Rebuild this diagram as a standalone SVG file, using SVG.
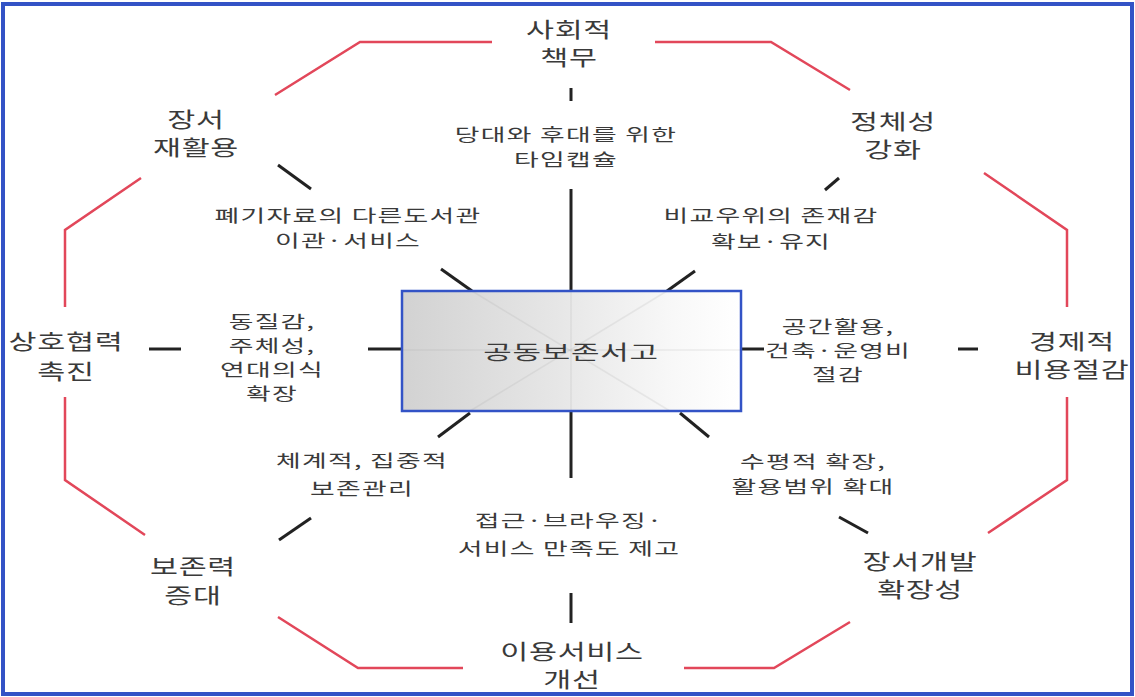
<svg xmlns="http://www.w3.org/2000/svg" width="1135" height="697" viewBox="0 0 1135 697">
<style>
text{font-family:"Noto Sans CJK KR","Noto Sans",sans-serif;fill:#3a3a3a;text-anchor:middle}
.lo{font-size:21px;letter-spacing:0.5px}
.li{font-size:17px;letter-spacing:0.8px}
.lc{font-size:20px;letter-spacing:0.5px}
.k{stroke:#222;stroke-width:3;fill:none}
.r{stroke:#e2475a;stroke-width:2.5;fill:none;stroke-linejoin:miter}
.f{stroke:#999;stroke-width:1.5;opacity:0.15}
</style>
<defs>
<linearGradient id="g" x1="0" y1="0" x2="1" y2="0">
<stop offset="0" stop-color="#d2d2d2"/>
<stop offset="0.45" stop-color="#e6e6e6"/>
<stop offset="0.8" stop-color="#f8f8f8"/>
<stop offset="1" stop-color="#ffffff"/>
</linearGradient>
</defs>
<rect x="0" y="0" width="1135" height="697" fill="#ffffff"/>
<rect x="3" y="4" width="1129" height="690" fill="none" stroke="#3353c6" stroke-width="4"/>

<g id="frame">
<polyline class="r" points="275,95 360,42 492,42"/>
<polyline class="r" points="655,42 771,42 850,90"/>
<polyline class="r" points="141,178 65,230 65,307"/>
<polyline class="r" points="65,397 65,480 145,535"/>
<polyline class="r" points="984,173 1067,230 1067,307"/>
<polyline class="r" points="1067,397 1067,480 988,533"/>
<polyline class="r" points="278,617 358,668 463,668"/>
<polyline class="r" points="684,668 774,668 850,622"/>
</g>

<g id="connectors">
<line class="k" x1="571" y1="88" x2="571" y2="101"/>
<line class="k" x1="571" y1="189" x2="571" y2="291"/>
<line class="k" x1="571" y1="411" x2="571" y2="478"/>
<line class="k" x1="571" y1="593" x2="571" y2="623"/>
<line class="k" x1="149" y1="349" x2="181" y2="349"/>
<line class="k" x1="368" y1="349" x2="402" y2="349"/>
<line class="k" x1="741" y1="349" x2="764" y2="349"/>
<line class="k" x1="958" y1="349" x2="978" y2="349"/>
<line class="k" x1="278" y1="165" x2="311" y2="189"/>
<line class="k" x1="441" y1="269" x2="472" y2="291"/>
<line class="k" x1="839" y1="178" x2="825" y2="190"/>
<line class="k" x1="695" y1="271" x2="667" y2="291"/>
<line class="k" x1="470" y1="413" x2="438" y2="437"/>
<line class="k" x1="311" y1="518" x2="279" y2="540"/>
<line class="k" x1="680" y1="413" x2="709" y2="437"/>
<line class="k" x1="839" y1="517" x2="868" y2="533"/>
</g>

<g id="center">
<rect x="402" y="291" width="339" height="120" fill="url(#g)"/>
<line class="f" x1="571" y1="291" x2="571" y2="411"/>
<line class="f" x1="402" y1="350" x2="741" y2="350"/>
<line class="f" x1="472" y1="291" x2="670" y2="411"/>
<line class="f" x1="667" y1="291" x2="470" y2="411"/>
<rect x="402" y="291" width="339" height="120" fill="none" stroke="#3353c6" stroke-width="2.5"/>
<text class="lc" transform="translate(571 360) scale(1.55 1)" x="0" y="0">공동보존서고</text>
</g>

<g id="n-social">
<text class="lo" transform="translate(569 0) scale(1.45 1)"><tspan x="0" y="37">사회적</tspan><tspan x="0" y="65">책무</tspan></text>
</g>
<g id="n-reuse">
<text class="lo" transform="translate(196 0) scale(1.45 1)"><tspan x="0" y="127">장서</tspan><tspan x="0" y="155">재활용</tspan></text>
</g>
<g id="n-identity">
<text class="lo" transform="translate(893 0) scale(1.45 1)"><tspan x="0" y="129">정체성</tspan><tspan x="0" y="157">강화</tspan></text>
</g>
<g id="n-cooperation">
<text class="lo" transform="translate(66 0) scale(1.45 1)"><tspan x="0" y="349">상호협력</tspan><tspan x="0" y="379">촉진</tspan></text>
</g>
<g id="n-economic">
<text class="lo" transform="translate(1072 0) scale(1.45 1)"><tspan x="0" y="349">경제적</tspan><tspan x="0" y="377">비용절감</tspan></text>
</g>
<g id="n-preserve">
<text class="lo" transform="translate(193 0) scale(1.45 1)"><tspan x="0" y="574">보존력</tspan><tspan x="0" y="603">증대</tspan></text>
</g>
<g id="n-collection">
<text class="lo" transform="translate(920 0) scale(1.45 1)"><tspan x="0" y="569">장서개발</tspan><tspan x="0" y="597">확장성</tspan></text>
</g>
<g id="n-service">
<text class="lo" transform="translate(572 0) scale(1.45 1)"><tspan x="0" y="659">이용서비스</tspan><tspan x="0" y="687">개선</tspan></text>
</g>

<g id="i-timecapsule">
<text class="li" transform="translate(566 0) scale(1.58 1)"><tspan x="0" y="141">당대와 후대를 위한</tspan><tspan x="0" y="166">타임캡슐</tspan></text>
</g>
<g id="i-transfer">
<text class="li" transform="translate(348 0) scale(1.58 1)"><tspan x="0" y="222">폐기자료의 다른도서관</tspan><tspan x="0" y="247">이관·서비스</tspan></text>
</g>
<g id="i-presence">
<text class="li" transform="translate(771 0) scale(1.58 1)"><tspan x="0" y="222">비교우위의 존재감</tspan><tspan x="0" y="248">확보·유지</tspan></text>
</g>
<g id="i-solidarity">
<text class="li" transform="translate(272 0) scale(1.58 1)"><tspan x="0" y="328">동질감,</tspan><tspan x="0" y="352">주체성,</tspan><tspan x="0" y="376">연대의식</tspan><tspan x="0" y="400">확장</tspan></text>
</g>
<g id="i-space">
<text class="li" transform="translate(838 0) scale(1.58 1)"><tspan x="0" y="333">공간활용,</tspan><tspan x="0" y="357">건축·운영비</tspan><tspan x="0" y="381">절감</tspan></text>
</g>
<g id="i-systematic">
<text class="li" transform="translate(362 0) scale(1.58 1)"><tspan x="0" y="467">체계적, 집중적</tspan><tspan x="0" y="495">보존관리</tspan></text>
</g>
<g id="i-horizontal">
<text class="li" transform="translate(813 0) scale(1.58 1)"><tspan x="0" y="468">수평적 확장,</tspan><tspan x="0" y="493">활용범위 확대</tspan></text>
</g>
<g id="i-access">
<text class="li" transform="translate(569 0) scale(1.58 1)"><tspan x="0" y="527">접근·브라우징·</tspan><tspan x="0" y="555">서비스 만족도 제고</tspan></text>
</g>
</svg>
